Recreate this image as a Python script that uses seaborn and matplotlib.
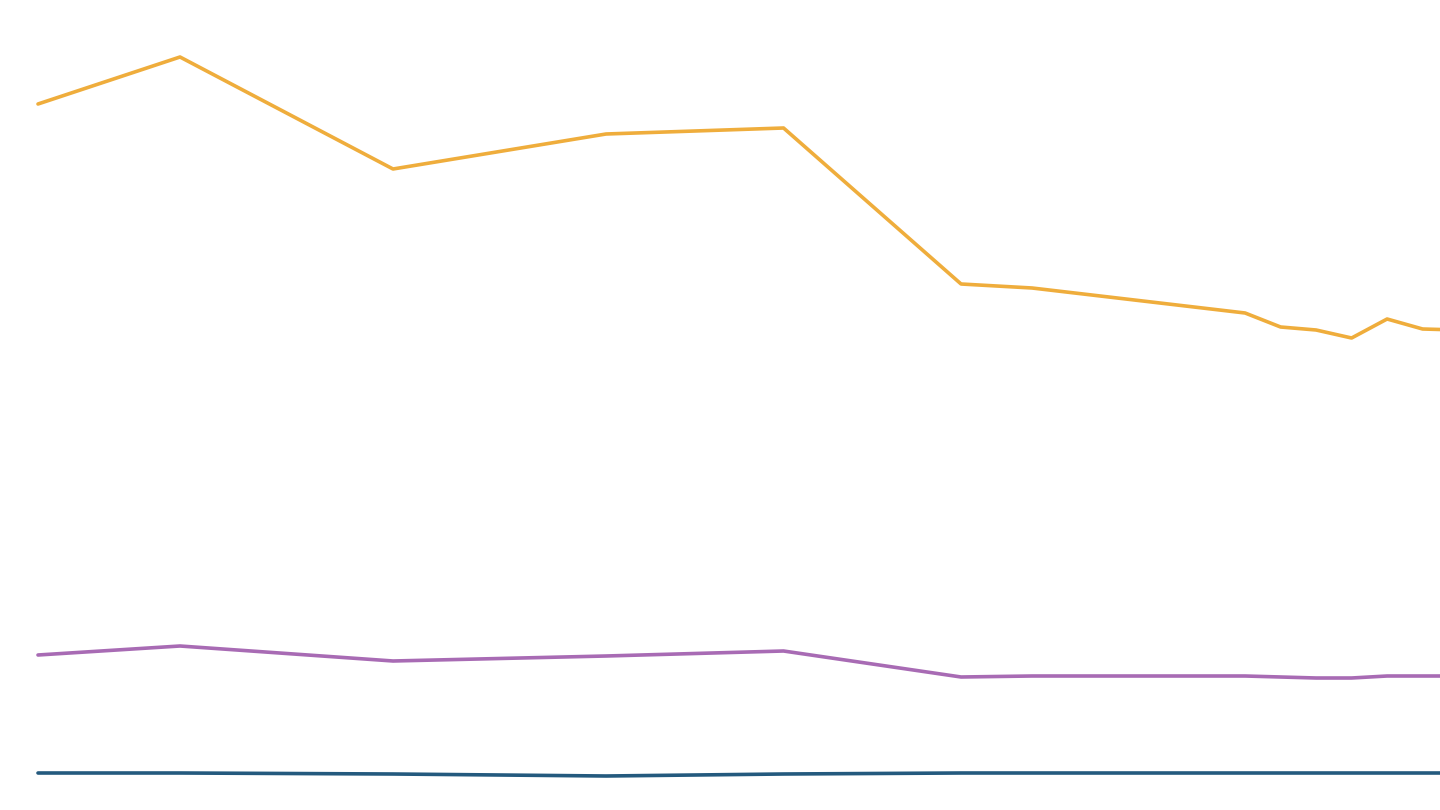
import matplotlib
matplotlib.use('Agg')
import matplotlib.pyplot as plt
import pandas as pd
import seaborn as sns

years = [1960, 1964, 1970, 1976, 1981, 1986, 1988, 1994, 1995, 1996, 1997, 1998, 1999, 2000]
series_a = [70.7, 75.4, 64.2, 67.7, 68.3, 52.7, 52.3, 49.8, 48.4, 48.1, 47.3, 49.2, 48.2, 48.1]
series_b = [15.6, 16.5, 15.0, 15.5, 16.0, 13.4, 13.5, 13.5, 13.4, 13.3, 13.3, 13.5, 13.5, 13.5]
series_c = [3.8, 3.8, 3.7, 3.5, 3.7, 3.8, 3.8, 3.8, 3.8, 3.8, 3.8, 3.8, 3.8, 3.8]

colors = {'a': '#EFAD3C', 'b': '#A86BB4', 'c': '#245A7E'}

df = pd.concat([
    pd.DataFrame({'year': years, 'value': series_a, 'series': 'a'}),
    pd.DataFrame({'year': years, 'value': series_b, 'series': 'b'}),
    pd.DataFrame({'year': years, 'value': series_c, 'series': 'c'}),
])

sns.set_theme(style='white')
fig = plt.figure(figsize=(14.4, 8.1), dpi=100)
ax = fig.add_axes([0, 0, 1, 1])
sns.lineplot(data=df, x='year', y='value', hue='series', palette=colors,
             linewidth=2.6, legend=False, ax=ax)

ax.set_xlim(1958.93, 1999.49)
ax.set_ylim(0.1, 81.1)
ax.axis('off')

fig.savefig('out.png', dpi=100, facecolor='white')
